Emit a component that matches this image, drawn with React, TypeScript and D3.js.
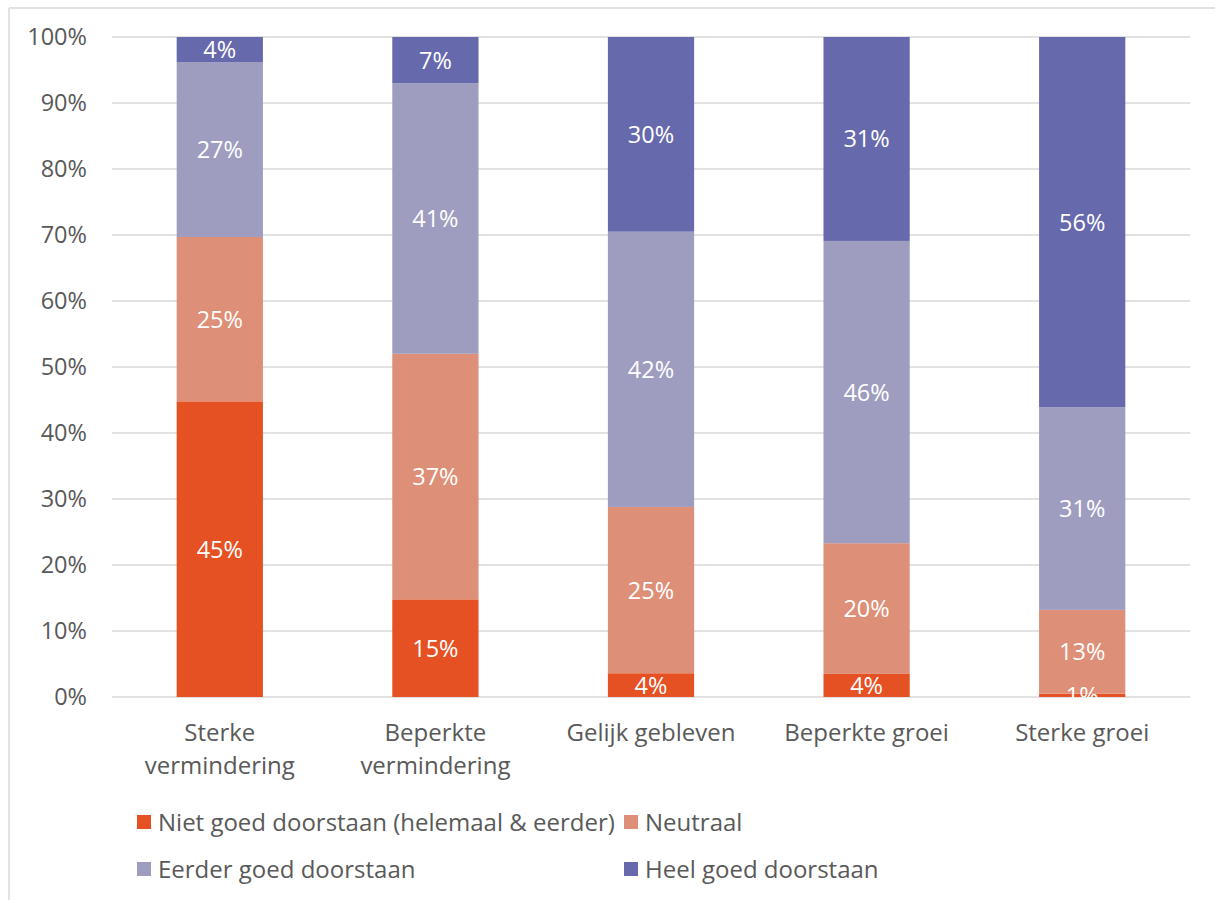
import React from "react";
import * as d3 from "d3";

const categories = [
  ["Sterke", "vermindering"],
  ["Beperkte", "vermindering"],
  ["Gelijk gebleven"],
  ["Beperkte groei"],
  ["Sterke groei"],
];
const seriesNames = [
  "Niet goed doorstaan (helemaal & eerder)",
  "Neutraal",
  "Eerder goed doorstaan",
  "Heel goed doorstaan",
];
const seriesColors = ["#E65123", "#DE8F77", "#9E9DC0", "#6769AD"];
const nietGoed = [44.8, 14.8, 3.6, 3.5, 0.5];
const neutraal = [24.9, 37.2, 25.2, 19.8, 12.7];
const eerderGoed = [26.5, 41.0, 41.7, 45.8, 30.7];
const heelGoed = [3.8, 7.0, 29.5, 30.9, 56.1];
const labels = [
  ["45%", "25%", "27%", "4%"],
  ["15%", "37%", "41%", "7%"],
  ["4%", "25%", "42%", "30%"],
  ["4%", "20%", "46%", "31%"],
  ["1%", "13%", "31%", "56%"],
];
const yTicks = [0, 10, 20, 30, 40, 50, 60, 70, 80, 90, 100];

export default function App() {
  const W = 1215, H = 900;
  const left = 112, right = 1190, top = 37, bottom = 697;
  const x = d3.scaleBand().domain(d3.range(categories.length).map(String)).range([left, right]).paddingInner(0.6).paddingOuter(0.3);
  const y = d3.scaleLinear().domain([0, 100]).range([bottom, top]);
  const series = [nietGoed, neutraal, eerderGoed, heelGoed];
  const rows = categories.map((_, i) => {
    const o: any = { key: String(i) };
    series.forEach((s, j) => (o["s" + j] = s[i]));
    return o;
  });
  const stacked = d3.stack().keys(series.map((_, j) => "s" + j))(rows);
  const font = "'Open Sans', sans-serif";
  const textColor = "#595959";
  const fs = 23.5;
  const fsL = 24;

  const legendItems = [
    { x: 137, y: 822 },
    { x: 624, y: 822 },
    { x: 137, y: 869 },
    { x: 624, y: 869 },
  ];

  return (
    <svg width={W} height={H} style={{ position: "absolute", left: 0, top: 0 }} fontFamily={font}>
      <rect x={0} y={0} width={W} height={H} fill="#fff" />
      <line x1={9} y1={8} x2={W} y2={8} stroke="#d9d9d9" strokeWidth={1.5} />
      <line x1={9} y1={8} x2={9} y2={H} stroke="#d9d9d9" strokeWidth={1.5} />
      {yTicks.map((t) => (
        <g key={t}>
          <line x1={left} x2={right} y1={y(t)} y2={y(t)} stroke="#d9d9d9" strokeWidth={1.5} />
          <text x={87} y={y(t)} dy="0.36em" textAnchor="end" fontSize={fs} fill={textColor}>
            {t}%
          </text>
        </g>
      ))}
      {stacked.map((layer, j) => (
        <g key={j} fill={seriesColors[j]}>
          {layer.map((d, i) => (
            <rect key={i} x={x(String(i))} width={x.bandwidth()} y={y(d[1])} height={y(d[0]) - y(d[1])} />
          ))}
        </g>
      ))}
      {stacked.map((layer, j) => (
        <g key={"l" + j}>
          {layer.map((d, i) => (
            <text key={i} x={(x(String(i)) as number) + x.bandwidth() / 2} y={y((d[0] + d[1]) / 2)} dy="0.36em" textAnchor="middle" fontSize={fs} fill="#fff">
              {labels[i][j]}
            </text>
          ))}
        </g>
      ))}
      {categories.map((c, i) => (
        <text key={i} x={(x(String(i)) as number) + x.bandwidth() / 2} y={732} textAnchor="middle" fontSize={fsL} fill={textColor}>
          {c.map((line, k) => (
            <tspan key={k} x={(x(String(i)) as number) + x.bandwidth() / 2} dy={k === 0 ? "0.36em" : 33}>
              {line}
            </tspan>
          ))}
        </text>
      ))}
      {seriesNames.map((n, j) => (
        <g key={j}>
          <rect x={legendItems[j].x} y={legendItems[j].y - 7} width={14} height={14} fill={seriesColors[j]} />
          <text x={legendItems[j].x + 21} y={legendItems[j].y} dy="0.36em" fontSize={fsL} fill={textColor}>
            {n}
          </text>
        </g>
      ))}
    </svg>
  );
}
